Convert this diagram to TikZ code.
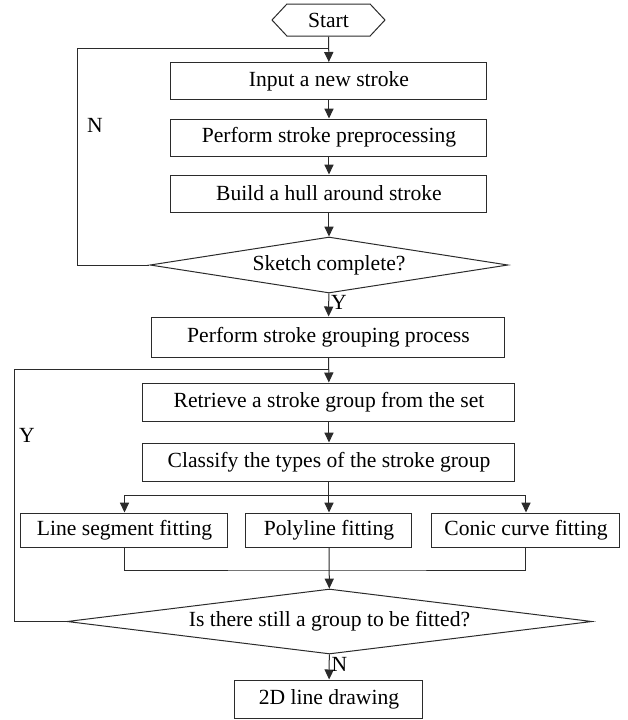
\documentclass[tikz,border=0pt]{standalone}
\usepackage{fontspec}
\setmainfont{Liberation Serif}
\usepackage{tikz}
\usetikzlibrary{arrows.meta,shapes.geometric,shapes.symbols}
\definecolor{cLine}{HTML}{2B2B2B}
\newcommand{\flowfont}{\fontsize{10.8pt}{13pt}\selectfont}
\tikzset{
  node-box/.style={draw=cLine,line width=0.5pt,inner sep=0pt,
    minimum height=18.5pt,align=center,font=\flowfont},
  node-start/.style={draw=cLine,line width=0.5pt,inner sep=0pt,
    signal,signal to=west and east,signal pointer angle=94,
    minimum width=56.5pt,minimum height=16pt,font=\flowfont},
  node-check/.style={draw=cLine,line width=0.5pt,inner sep=0pt,
    diamond,align=center,font=\flowfont},
  arrow/.style={-{Triangle[length=5pt,width=4.6pt]},line width=0.5pt,draw=cLine},
  line/.style={line width=0.5pt,draw=cLine},
  edge-label/.style={font=\flowfont,inner sep=1pt},
}
\begin{document}
\begin{tikzpicture}[x=0.5pt,y=-0.5pt]
  \useasboundingbox (0,0) rectangle (628,720);
  \node[node-start] (start) at (328.5,20) {Start};
  \node[node-box,minimum width=158pt] (input) at (329,81) {Input a new stroke};
  \node[node-box,minimum width=158pt] (prep)  at (329,137.5) {Perform stroke preprocessing};
  \node[node-box,minimum width=158pt] (hull)  at (329,193.5) {Build a hull around stroke};
  \node[node-check,aspect=6.4,minimum width=179pt,minimum height=28pt] (sketch) at (329,265) {Sketch complete?};
  \node[node-box,minimum width=176.5pt,minimum height=20pt] (group) at (328.5,337) {Perform stroke grouping process};
  \node[node-box,minimum width=186pt,minimum height=19pt] (retrieve) at (329,402) {Retrieve a stroke group from the set};
  \node[node-box,minimum width=186pt,minimum height=19pt] (classify) at (329,462) {Classify the types of the stroke group};
  \node[node-box,minimum width=103.5pt,minimum height=17pt] (lineseg) at (124.5,530) {Line segment fitting};
  \node[node-box,minimum width=83pt,minimum height=17pt]    (poly)    at (329,530) {Polyline fitting};
  \node[node-box,minimum width=94pt,minimum height=17pt]    (conic)   at (526,530) {Conic curve fitting};
  \node[node-check,aspect=8,minimum width=262.5pt,minimum height=32.5pt] (still) at (329.5,621.5) {Is there still a group to be fitted?};
  \node[node-box,minimum width=94pt,minimum height=19pt] (drawing) at (329,699) {2D line drawing};
  % join and fork points
  \coordinate (join1) at (329,48);
  \coordinate (join2) at (329,369);
  \coordinate (fork)  at (329,495);
  \coordinate (merge) at (329,570);
  % main flow
  \draw[arrow] (start) -- (input);
  \draw[arrow] (input) -- (prep);
  \draw[arrow] (prep) -- (hull);
  \draw[arrow] (hull) -- (sketch);
  \draw[arrow] (sketch) -- node[edge-label,right,pos=0.4]{Y} (group);
  \draw[line] (sketch.west) -- ++(-72,0) |- (join1);
  \node[edge-label] (no1) at (95,125) {N};
  \draw[arrow] (group) -- (retrieve);
  \draw[arrow] (retrieve) -- (classify);
  \draw[arrow] (classify) -- (poly);
  \draw[arrow] (fork) -| (lineseg.north);
  \draw[arrow] (fork) -| (conic.north);
  \draw[line] (lineseg.south) |- (merge) -| (conic.south);
  \draw[arrow] (poly) -- (still);
  \draw[line] (still.west) -- ++(-52,0) |- (join2);
  \node[edge-label] (yes2) at (27,435) {Y};
  \draw[arrow] (still) -- node[edge-label,right,pos=0.4]{N} (drawing);
\end{tikzpicture}
\end{document}
